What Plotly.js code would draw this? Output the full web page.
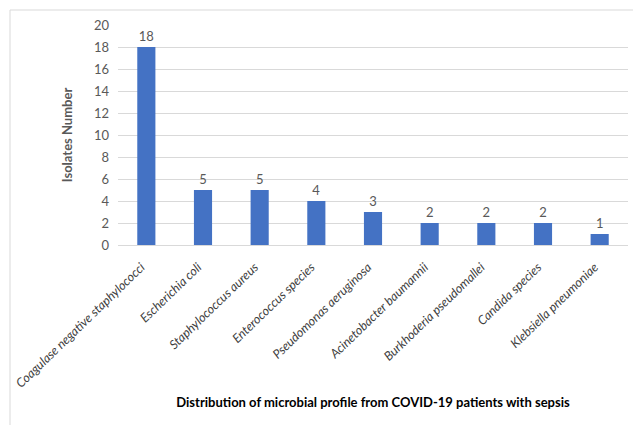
<!DOCTYPE html>
<html><head><meta charset="utf-8">
<script src="https://cdn.plot.ly/plotly-3.0.1.min.js"></script>
<style>html,body{margin:0;padding:0;background:#fff;}#chart{width:633px;height:425px;}</style>
</head><body><div id="chart"></div>
<script>
const categories = ["Coagulase negative staphylococci","Escherichia coli","Staphylococcus aureus","Enterococcus species","Pseudomonas aeruginosa","Acinetobacter baumannii","Burkhoderia pseudomallei","Candida species","Klebsiella pneumoniae"];
const isolates = [18,5,5,4,3,2,2,2,1];
const yTicks = [0,2,4,6,8,10,12,14,16,18,20];

const FONT = "Lato, 'Liberation Sans', sans-serif";
const trace = {
  type: "bar", x: categories, y: isolates,
  marker: {color: "#4472c4"},
  text: isolates.map(String), textposition: "outside",
  textfont: {family: FONT, size: 13, color: "#595959"},
  cliponaxis: false, hoverinfo: "none"
};
const px = v => (v - 118) / 510;
const py = v => (245 - v) / 220;
const layout = {
  width: 633, height: 425,
  margin: {l: 118, r: 5, t: 25, b: 180},
  paper_bgcolor: "#fff", plot_bgcolor: "#fff",
  showlegend: false, bargap: 0.68,
  font: {family: FONT, color: "#595959", size: 12},
  xaxis: {
    type: "category", tickangle: -44, automargin: false,
    tickfont: {family: FONT, size: 12.5, color: "#404040", style: "italic"},
    ticklabelstandoff: 9, ticklabelshift: -5,
    showgrid: false, ticks: "", showline: true, linecolor: "#d9d9d9",
    title: {text: "Distribution of microbial profile from COVID-19 patients with sepsis",
            font: {family: FONT, size: 13, color: "#000", weight: "bold"}, standoff: 8}
  },
  yaxis: {
    range: [0, 20], tickvals: yTicks, automargin: false,
    tickfont: {family: FONT, size: 13, color: "#595959"},
    ticklabelstandoff: 8,
    gridcolor: "#d9d9d9", zeroline: false, ticks: "", showline: false,
    title: {text: "Isolates Number", font: {family: FONT, size: 13, color: "#595959", weight: "bold"}, standoff: 18}
  },
  shapes: [
    {type: "line", xref: "paper", yref: "paper", x0: px(10), x1: px(633), y0: py(10), y1: py(10), line: {color: "#d9d9d9", width: 1}},
    {type: "line", xref: "paper", yref: "paper", x0: px(10), x1: px(10), y0: py(10), y1: py(425), line: {color: "#d9d9d9", width: 1}}
  ]
};
Plotly.newPlot("chart", [trace], layout, {staticPlot: true, displayModeBar: false});
</script></body></html>
